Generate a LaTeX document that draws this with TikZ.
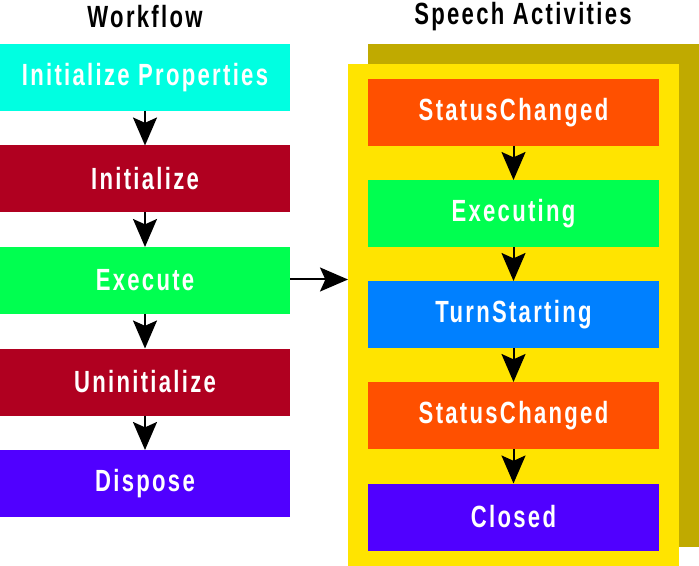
\documentclass[tikz,border=0pt]{standalone}
\usepackage{fontspec}
\newfontfamily\boxfont[FakeStretch=0.72,LetterSpace=7.5,UprightFont={* Bold}]{Liberation Sans}
\usetikzlibrary{arrows.meta}

\definecolor{cyanbox}{RGB}{0,255,225}
\definecolor{redbox}{RGB}{176,0,32}
\definecolor{greenbox}{RGB}{0,255,80}
\definecolor{purplebox}{RGB}{80,0,255}
\definecolor{orangebox}{RGB}{255,80,0}
\definecolor{bluebox}{RGB}{0,128,255}
\definecolor{yellowbox}{RGB}{255,228,0}
\definecolor{olivebox}{RGB}{192,170,0}

\tikzset{every picture/.style={line width=0.75pt}}
\tikzset{
  stepbox/.style={inner sep=0pt,outer sep=0pt,minimum width=218pt,minimum height=50.25pt,
    text=white,font=\boxfont\fontsize{23}{26}\selectfont},
  titlelabel/.style={inner sep=0pt,font=\boxfont\fontsize{23}{26}\selectfont},
  flowarrow/.style={line width=1.5pt,-{Stealth[length=21pt,width=18pt,inset=4pt]}}
}

\begin{document}
\begin{tikzpicture}[x=0.75pt,y=0.75pt,yscale=-1,xscale=1]
	\path[use as bounding box] (0,0) rectangle (699,566);
	
	%Shape: Rectangle (shadow)
	\fill [olivebox] (368,44) rectangle (699,547);
	%Shape: Rectangle (frame)
	\fill [yellowbox] (348,64) rectangle (679,566);
	
	% Text Node
	\node [titlelabel] (wftitle) at (145,17) {Workflow};
	% Text Node
	\node [titlelabel] (sptitle) at (523,17) {Speech Activities};
	
	% Workflow steps
	\node [stepbox,fill=cyanbox] (initprops) at (145,77.5) {Initialize Properties};
	\node [stepbox,fill=redbox] (init) at (145,179) {Initialize};
	\node [stepbox,fill=greenbox] (execute) at (145,280.5) {Execute};
	\node [stepbox,fill=redbox] (uninit) at (145,382) {Uninitialize};
	\node [stepbox,fill=purplebox] (dispose) at (145,483.5) {Dispose};
	
	% Speech activities
	\node [stepbox,fill=orangebox] (status) at (513.5,112.5) {StatusChanged};
	\node [stepbox,fill=greenbox] (executing) at (513.5,213.5) {Executing};
	\node [stepbox,fill=bluebox] (turn) at (513.5,314.5) {TurnStarting};
	\node [stepbox,fill=orangebox] (statustwo) at (513.5,415.5) {StatusChanged};
	\node [stepbox,fill=purplebox] (closed) at (513.5,517) {Closed};
	
	%Straight Lines
	\draw [flowarrow] (initprops) -- (init);
	\draw [flowarrow] (init) -- (execute);
	\draw [flowarrow] (execute) -- (uninit);
	\draw [flowarrow] (uninit) -- (dispose);
	%Straight Lines
	\draw [flowarrow] (status) -- (executing);
	\draw [flowarrow] (executing) -- (turn);
	\draw [flowarrow] (turn) -- (statustwo);
	\draw [flowarrow] (statustwo) -- (closed);
	%Straight Lines
	\coordinate (frameleft) at (348,279.5);
	\draw [flowarrow] (execute.east |- frameleft) -- (frameleft);
	
\end{tikzpicture}
\end{document}
